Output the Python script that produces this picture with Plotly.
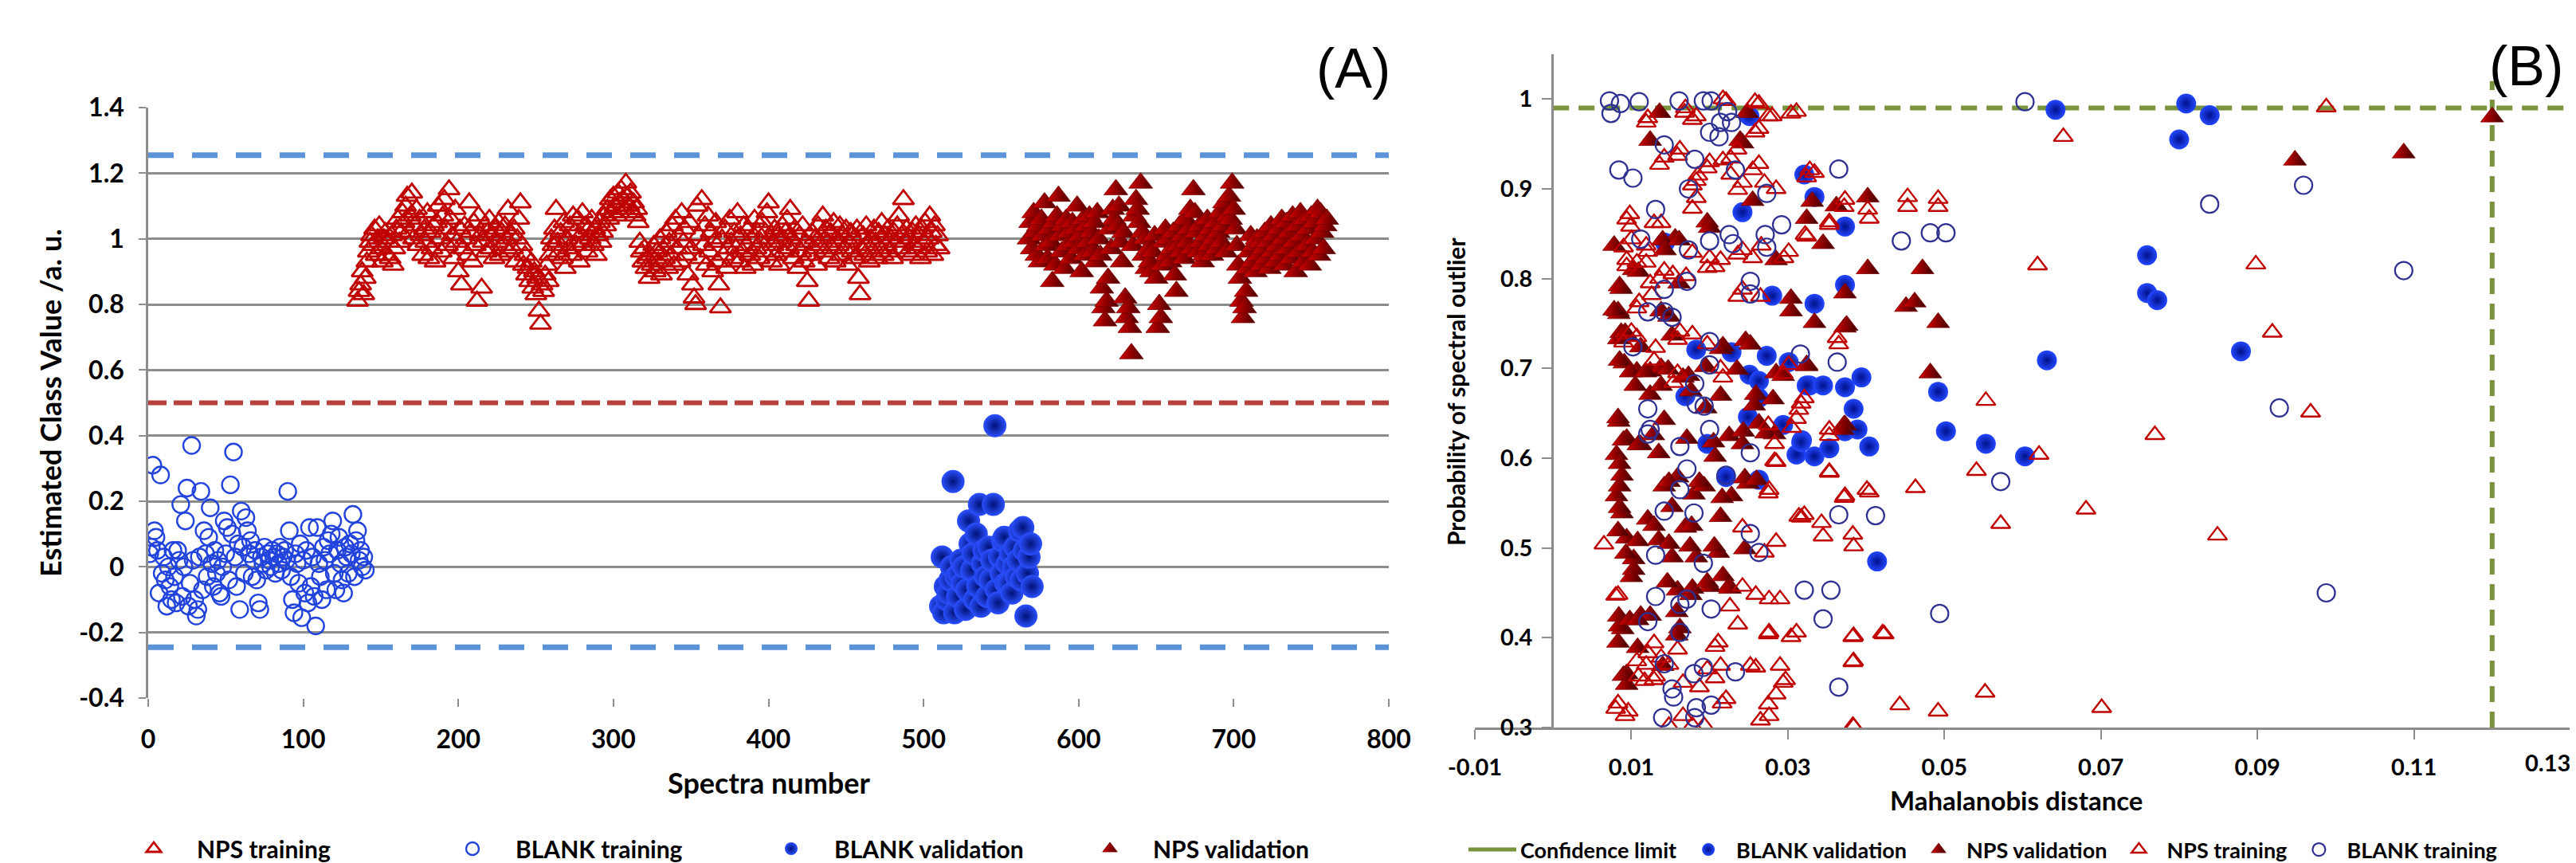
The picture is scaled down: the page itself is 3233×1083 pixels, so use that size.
import plotly.graph_objects as go

# ---------------- Panel (A) data ----------------
a_blank_train_start = 1
a_blank_train_y = [
    0.04, 0.06, 0.31, 0.11, 0.09, 0.05, -0.08, 0.28, -0.02, 0.03,
    -0.04, -0.12, 0.00, -0.06, -0.10, 0.05, -0.03, -0.11, 0.05, 0.02,
    0.19, -0.09, 0.00, 0.14, 0.24, -0.12, -0.05, 0.37, 0.02, -0.10,
    -0.15, -0.13, 0.03, 0.23, -0.07, 0.11, 0.04, -0.03, 0.09, 0.18,
    0.01, -0.06, 0.05, -0.02, 0.02, -0.08, -0.09, 0.00, 0.14, 0.04,
    0.12, -0.04, 0.25, 0.10, 0.35, 0.03, -0.06, 0.07, -0.13, 0.17,
    0.06, -0.02, 0.15, 0.11, 0.04, 0.08, -0.03, 0.02, 0.05, -0.04,
    -0.11, -0.13, 0.03, 0.01, 0.06, -0.01, 0.04, 0.02, 0.00, 0.05,
    0.03, -0.02, 0.04, 0.01, 0.06, -0.01, 0.03, 0.05, 0.02, 0.23,
    0.11, -0.03, -0.10, -0.14, 0.04, 0.01, -0.05, 0.07, -0.155, 0.02,
    -0.08, 0.05, -0.11, 0.12, -0.06, 0.03, -0.09, -0.18, 0.12, 0.01,
    -0.03, -0.10, 0.06, 0.02, -0.07, 0.08, 0.04, 0.10, 0.14, -0.02,
    -0.07, 0.05, 0.09, 0.01, -0.04, -0.08, 0.06, 0.03, -0.02, 0.07,
    0.04, 0.16, -0.03, 0.08, 0.11, 0.02, 0.05, 0.00, 0.03, -0.01,
]

a_nps_train_start = 135
a_nps_train_y = [
    0.81, 0.84, 0.86, 0.90, 0.83, 0.88, 0.93, 0.96, 0.99, 1.01,
    0.98, 1.03, 0.95, 1.00, 1.04, 0.97, 0.93, 1.00, 1.02, 0.95,
    0.99, 0.94, 1.01, 0.92, 0.97, 1.03, 1.06, 0.99, 1.02, 1.08,
    1.05, 1.10, 1.13, 1.02, 1.07, 1.14, 1.00, 1.04, 1.09, 0.98,
    1.06, 1.01, 0.95, 1.03, 0.99, 1.08, 0.94, 1.02, 0.97, 1.04,
    0.93, 1.05, 1.10, 1.00, 0.96, 1.07, 1.12, 1.03, 0.98, 1.15,
    1.06, 1.01, 0.94, 1.09, 0.99, 0.90, 1.03, 0.86, 0.97, 1.04,
    1.00, 0.95, 1.11, 1.02, 0.93, 1.05, 0.98, 0.81, 1.07, 1.01,
    0.85, 0.99, 1.04, 0.96, 1.02, 1.06, 0.97, 1.01, 0.94, 1.03,
    0.99, 1.05, 0.95, 1.02, 0.98, 1.04, 1.00, 1.09, 0.96, 1.01,
    0.97, 1.03, 0.93, 1.00, 1.06, 1.11, 0.98, 0.92, 0.95, 0.89,
    0.91, 0.87, 0.93, 0.85, 0.90, 0.83, 0.88, 0.78, 0.74, 0.86,
    0.84, 0.89, 0.92, 0.87, 0.95, 1.00, 0.98, 1.03, 1.09, 0.99,
    0.96, 1.02, 0.94, 1.05, 0.91, 1.00, 0.97, 1.04, 0.95, 1.07,
    1.02, 0.98, 1.06, 0.93, 1.01, 1.08, 0.99, 1.04, 0.96, 1.03,
    1.00, 1.06, 0.98, 1.03, 0.95, 1.01, 1.05, 0.99, 1.02, 1.07,
    1.04, 1.09, 1.06, 1.12, 1.08, 1.13, 1.10, 1.07, 1.14, 1.11,
    1.15, 1.12, 1.09, 1.17, 1.13, 1.10, 1.14, 1.08, 1.11, 1.07,
    1.09, 1.05, 0.99, 0.96, 0.93, 0.97, 0.91, 0.94, 0.88, 0.95,
    0.92, 0.98, 0.90, 0.96, 0.93, 1.00, 0.89, 0.97, 0.94, 1.02,
    0.91, 0.99, 0.95, 1.04, 0.92, 1.06, 0.97, 1.01, 0.93, 1.08,
    0.99, 1.03, 0.95, 0.89, 1.05, 0.97, 0.86, 0.82, 0.80, 1.10,
    1.01, 0.94, 1.12, 0.98, 1.04, 0.92, 1.07, 0.96, 1.02, 0.90,
    0.99, 1.05, 0.93, 0.86, 0.79, 1.00, 0.95, 1.03, 0.91, 0.97,
    1.06, 0.99, 0.94, 1.02, 0.97, 1.08, 0.93, 1.01, 0.96, 1.04,
    0.91, 0.98, 1.03, 0.95, 1.00, 0.92, 1.06, 0.97, 1.02, 0.94,
    0.99, 1.05, 0.96, 1.02, 1.08, 1.11, 1.00, 0.93, 0.98, 1.03,
    0.95, 1.01, 0.92, 0.99, 1.04, 0.96, 1.02, 1.06, 0.97, 1.09,
    1.00, 0.94, 1.03, 0.98, 0.91, 1.01, 0.96, 1.04, 0.93, 0.99,
    0.87, 0.81, 0.95, 1.02, 0.97, 1.00, 0.92, 1.04, 0.98, 1.01,
    1.07, 0.96, 1.03, 0.99, 0.94, 1.02, 0.97, 1.05, 0.93, 1.00,
    0.98, 1.04, 0.95, 1.01, 0.97, 1.03, 0.92, 0.99, 1.02, 0.96,
    1.00, 0.94, 1.03, 0.88, 0.83, 0.97, 1.01, 0.95, 1.04, 0.98,
    0.93, 1.00, 0.96, 1.03, 0.99, 0.94, 1.02, 0.97, 1.05, 0.95,
    1.01, 0.98, 1.03, 0.96, 1.00, 0.94, 1.02, 0.99, 1.04, 1.07,
    0.97, 1.01, 1.12, 0.99, 1.03, 0.96, 1.00, 0.95, 1.02, 0.98,
    1.04, 0.97, 1.01, 0.94, 1.03, 0.99, 1.05, 0.96, 1.00, 1.07,
    1.02, 0.95, 1.04, 0.98, 1.01, 0.97,
]

a_blank_val_start = 511
a_blank_val_y = [
    -0.12, 0.03, -0.14, -0.06, -0.10, -0.08, -0.04, 0.00, 0.26, -0.14,
    -0.03, -0.09, -0.02, 0.02, -0.05, 0.00, -0.13, -0.07, 0.14, 0.07,
    -0.01, 0.04, -0.10, 0.10, -0.06, 0.19, -0.12, 0.01, 0.05, -0.03,
    -0.09, 0.06, -0.04, 0.02, 0.19, 0.43, -0.07, -0.11, 0.03, -0.02,
    0.08, 0.09, -0.05, 0.01, -0.05, 0.04, -0.08, 0.00, 0.06, -0.03,
    0.02, 0.11, -0.04, 0.12, 0.05, -0.15, -0.02, 0.03, 0.07, -0.06,
]

a_nps_val_start = 568
a_nps_val_y = [
    1.00, 1.05, 0.97, 1.08, 1.02, 0.95, 1.04, 0.93, 1.06, 1.01,
    1.11, 0.98, 0.94, 1.03, 0.99, 0.87, 1.05, 0.92, 1.07, 1.13,
    1.01, 0.96, 1.04, 0.91, 1.06, 0.98, 1.02, 0.94, 1.05, 0.99,
    1.03, 1.10, 0.97, 1.01, 0.90, 1.06, 0.95, 1.04, 0.99, 1.07,
    1.02, 0.96, 1.05, 0.93, 1.08, 1.00, 0.95, 0.85, 0.79, 0.75,
    0.81, 0.88, 1.03, 0.97, 1.09, 1.06, 1.15, 1.04, 1.10, 0.99,
    0.93, 1.02, 0.82, 0.76, 0.79, 0.73, 0.65, 0.98, 1.07, 1.12,
    1.09, 1.05, 1.17, 1.02, 0.95, 1.00, 0.91, 0.97, 0.93, 0.90,
    0.96, 1.01, 0.88, 0.73, 0.80, 0.76, 0.92, 0.99, 1.03, 0.95,
    1.00, 0.93, 0.97, 1.02, 0.89, 0.84, 0.98, 1.04, 0.96, 1.01,
    0.94, 1.06, 0.99, 1.03, 1.09, 0.97, 1.15, 1.08, 1.02, 0.96,
    1.04, 0.99, 0.93, 0.95, 1.01, 1.06, 0.98, 1.03, 0.95, 1.00,
    1.05, 0.97, 1.02, 1.08, 0.99, 1.04, 1.11, 0.96, 1.07, 1.13,
    1.06, 1.17, 1.09, 1.03, 0.98, 0.92, 0.88, 0.81, 0.76, 0.79,
    0.84, 0.91, 0.96, 1.01, 0.93, 0.98, 0.90, 1.00, 0.95, 0.99,
    0.92, 0.97, 1.02, 0.94, 0.99, 0.91, 1.04, 0.96, 1.01, 0.93,
    0.98, 1.03, 0.95, 1.06, 1.00, 0.92, 1.05, 0.97, 1.02, 0.94,
    1.07, 0.99, 0.90, 1.04, 0.96, 1.08, 1.01, 0.93, 1.06, 0.98,
    1.03, 0.92, 1.07, 0.96, 1.05, 1.00, 1.09, 0.95, 1.08, 1.02,
    0.97, 1.04, 1.06,
]

a_blank_upper_limit = 1.255
a_blank_lower_limit = -0.245
a_class_threshold = 0.5
a_x_range = [0, 800]
a_x_ticks = [0, 100, 200, 300, 400, 500, 600, 700, 800]
a_y_ticks = [-0.4, -0.2, 0, 0.2, 0.4, 0.6, 0.8, 1.0, 1.2, 1.4]
a_y_ticktext = ["-0.4", "-0.2", "0", "0.2", "0.4", "0.6", "0.8", "1", "1.2", "1.4"]

# ---------------- Panel (B) data (Mahalanobis distance, probability) ----------------
b_blank_train_pts = [
    (0.0072, 0.998), (0.0086, 0.995), (0.0110, 0.997), (0.0074, 0.984), (0.0161, 0.998),
    (0.0192, 0.998), (0.0202, 0.998), (0.0223, 0.986), (0.0214, 0.974), (0.0200, 0.963),
    (0.0212, 0.958), (0.0228, 0.974), (0.0142, 0.949), (0.0181, 0.933), (0.0084, 0.921),
    (0.0102, 0.912), (0.0173, 0.900), (0.0233, 0.921), (0.0273, 0.895), (0.0131, 0.877),
    (0.0112, 0.844), (0.0173, 0.832), (0.0200, 0.842), (0.0225, 0.849), (0.0230, 0.839),
    (0.0271, 0.849), (0.0292, 0.860), (0.0273, 0.835), (0.0171, 0.797), (0.0142, 0.788),
    (0.0252, 0.797), (0.0252, 0.783), (0.0121, 0.763), (0.0142, 0.763), (0.0152, 0.757),
    (0.0102, 0.724), (0.0200, 0.730), (0.0200, 0.704), (0.0181, 0.683), (0.0183, 0.660),
    (0.0193, 0.658), (0.0121, 0.655), (0.0200, 0.632), (0.0124, 0.632), (0.0121, 0.627),
    (0.0162, 0.613), (0.0252, 0.606), (0.0171, 0.588), (0.0221, 0.581), (0.0162, 0.565),
    (0.0142, 0.541), (0.0180, 0.539), (0.0252, 0.516), (0.0263, 0.495), (0.0131, 0.492),
    (0.0192, 0.483), (0.0321, 0.453), (0.0131, 0.446), (0.0162, 0.437), (0.0171, 0.443),
    (0.0202, 0.432), (0.0121, 0.418), (0.0162, 0.406), (0.0142, 0.371), (0.0192, 0.367),
    (0.0180, 0.360), (0.0233, 0.362), (0.0152, 0.343), (0.0154, 0.334), (0.0183, 0.322),
    (0.0202, 0.325), (0.0140, 0.311), (0.0181, 0.311),
    (0.0603, 0.997), (0.0365, 0.922), (0.0445, 0.842), (0.0482, 0.851), (0.0502, 0.851),
    (0.0363, 0.707), (0.0316, 0.716), (0.0572, 0.574), (0.0365, 0.537), (0.0412, 0.536),
    (0.0355, 0.453), (0.0345, 0.421), (0.0494, 0.427), (0.0365, 0.345), (0.0959, 0.904),
    (0.0839, 0.883), (0.1087, 0.809), (0.0928, 0.656), (0.0988, 0.450),
]

b_blank_val_pts = [
    (0.0251, 0.981), (0.0242, 0.874), (0.0321, 0.916), (0.0143, 0.840), (0.0280, 0.781),
    (0.0183, 0.721), (0.0228, 0.718), (0.0273, 0.714), (0.0301, 0.707), (0.0251, 0.693),
    (0.0263, 0.686), (0.0263, 0.667), (0.0169, 0.669), (0.0249, 0.646), (0.0294, 0.637),
    (0.0318, 0.620), (0.0311, 0.604), (0.0197, 0.616), (0.0221, 0.579), (0.0263, 0.576),
    (0.0328, 0.681), (0.0642, 0.988), (0.0334, 0.891), (0.0373, 0.858), (0.0373, 0.793),
    (0.0334, 0.772), (0.0631, 0.709), (0.0324, 0.681), (0.0345, 0.681), (0.0373, 0.679),
    (0.0394, 0.690), (0.0492, 0.674), (0.0384, 0.655), (0.0502, 0.630), (0.0373, 0.630),
    (0.0389, 0.632), (0.0317, 0.618), (0.0404, 0.613), (0.0334, 0.602), (0.0353, 0.611),
    (0.0553, 0.616), (0.0603, 0.602), (0.0414, 0.485), (0.0809, 0.995), (0.0839, 0.982),
    (0.0800, 0.955), (0.0759, 0.826), (0.0759, 0.784), (0.0772, 0.776), (0.0879, 0.719),
]

b_nps_val_pts = [
    (0.0948, 0.932), (0.1087, 0.940), (0.1200, 0.980), (0.0402, 0.891), (0.0472, 0.811),
    (0.0451, 0.769), (0.0462, 0.774), (0.0492, 0.751), (0.0482, 0.695), (0.0373, 0.784),
    (0.0334, 0.751), (0.0373, 0.746), (0.0324, 0.704), (0.0373, 0.637), (0.0362, 0.881),
    (0.0345, 0.839), (0.0324, 0.867), (0.0331, 0.886), (0.0402, 0.811),
    (0.0248, 0.985), (0.0136, 0.985), (0.0124, 0.954), (0.0239, 0.954), (0.0255, 0.887),
    (0.0078, 0.837), (0.0156, 0.845), (0.0197, 0.863), (0.0285, 0.821), (0.0103, 0.810),
    (0.0085, 0.792), (0.0304, 0.778), (0.0304, 0.764), (0.0083, 0.764), (0.0375, 0.748),
    (0.0148, 0.758), (0.0138, 0.764), (0.0246, 0.731), (0.0217, 0.725), (0.0324, 0.703),
    (0.0087, 0.740), (0.0242, 0.951), (0.0200, 0.857), (0.0140, 0.843), (0.0161, 0.843),
    (0.0109, 0.808), (0.0087, 0.789), (0.0084, 0.761), (0.0161, 0.795), (0.0084, 0.733),
    (0.0094, 0.737), (0.0112, 0.724), (0.0091, 0.706), (0.0107, 0.697), (0.0124, 0.697),
    (0.0138, 0.701), (0.0084, 0.641), (0.0094, 0.622), (0.0081, 0.604), (0.0088, 0.581),
    (0.0081, 0.558), (0.0088, 0.539), (0.0094, 0.511), (0.0103, 0.488), (0.0084, 0.424),
    (0.0089, 0.410), (0.0094, 0.360), (0.0152, 0.737), (0.0166, 0.690), (0.0214, 0.722),
    (0.0252, 0.727), (0.0235, 0.699), (0.0259, 0.671), (0.0124, 0.671), (0.0142, 0.643),
    (0.0112, 0.615), (0.0135, 0.606), (0.0159, 0.579), (0.0142, 0.569), (0.0180, 0.560),
    (0.0193, 0.569), (0.0152, 0.546), (0.0121, 0.532), (0.0169, 0.523), (0.0135, 0.509),
    (0.0152, 0.490), (0.0183, 0.490), (0.0211, 0.495), (0.0159, 0.453), (0.0176, 0.448),
    (0.0200, 0.457), (0.0112, 0.425), (0.0162, 0.411), (0.0225, 0.457), (0.0214, 0.535),
    (0.0228, 0.558), (0.0249, 0.572), (0.0225, 0.625), (0.0207, 0.602), (0.0263, 0.639),
    (0.0283, 0.627), (0.0242, 0.616), (0.0103, 0.476), (0.0124, 0.425), (0.0140, 0.369),
    (0.0094, 0.348), (0.0083, 0.645), (0.0090, 0.620), (0.0085, 0.594), (0.0085, 0.569),
    (0.0085, 0.545), (0.0083, 0.519), (0.0093, 0.494), (0.0100, 0.468), (0.0085, 0.413),
    (0.0098, 0.420), (0.0083, 0.395), (0.0090, 0.358), (0.0108, 0.389), (0.0108, 0.420),
    (0.0146, 0.462), (0.0178, 0.455), (0.0197, 0.462), (0.0217, 0.469), (0.0226, 0.455),
    (0.0158, 0.429), (0.0158, 0.403), (0.0175, 0.502), (0.0206, 0.502), (0.0148, 0.505),
    (0.0129, 0.525), (0.0108, 0.508), (0.0177, 0.525), (0.0148, 0.574), (0.0187, 0.574),
    (0.0216, 0.556), (0.0245, 0.578), (0.0260, 0.576), (0.0245, 0.499), (0.0372, 0.637),
    (0.0078, 0.765), (0.0092, 0.740), (0.0085, 0.709), (0.0099, 0.696), (0.0118, 0.696),
    (0.0147, 0.699), (0.0173, 0.692), (0.0195, 0.702), (0.0285, 0.695), (0.0294, 0.692),
    (0.0109, 0.615), (0.0128, 0.626), (0.0171, 0.622), (0.0205, 0.618), (0.0243, 0.630),
    (0.0272, 0.628), (0.0370, 0.632), (0.0257, 0.659), (0.0281, 0.666), (0.0195, 0.656),
    (0.0214, 0.670), (0.0176, 0.675), (0.0138, 0.681), (0.0105, 0.681), (0.0143, 0.832),
]

b_nps_train_pts = [
    (0.0217, 1.000), (0.0258, 0.997), (0.0119, 0.974), (0.0168, 0.985), (0.0178, 0.977),
    (0.0275, 0.981), (0.0304, 0.984), (0.0258, 0.963), (0.0159, 0.937), (0.0136, 0.927),
    (0.0197, 0.923), (0.0217, 0.932), (0.0227, 0.934), (0.0185, 0.915), (0.0255, 0.921),
    (0.0227, 0.916), (0.0178, 0.904), (0.0285, 0.900), (0.0236, 0.899), (0.0178, 0.878),
    (0.0324, 0.913), (0.0334, 0.918), (0.0372, 0.880), (0.0404, 0.867), (0.0453, 0.880),
    (0.0492, 0.880), (0.0094, 0.866), (0.0099, 0.858), (0.0129, 0.862), (0.0138, 0.862),
    (0.0090, 0.835), (0.0119, 0.837), (0.0107, 0.818), (0.0094, 0.814), (0.0119, 0.818),
    (0.0136, 0.800), (0.0153, 0.805), (0.0170, 0.803), (0.0178, 0.829), (0.0197, 0.812),
    (0.0207, 0.813), (0.0236, 0.827), (0.0255, 0.823), (0.0295, 0.823), (0.0324, 0.847),
    (0.0353, 0.860), (0.0236, 0.780), (0.0265, 0.780), (0.0107, 0.767), (0.0126, 0.782),
    (0.0178, 0.738), (0.0159, 0.732), (0.0197, 0.727), (0.0107, 0.735), (0.0090, 0.729),
    (0.0365, 0.727), (0.0129, 0.709), (0.0217, 0.690), (0.0294, 0.694), (0.0154, 0.684),
    (0.0314, 0.654), (0.0553, 0.664), (0.0305, 0.634), (0.0353, 0.625), (0.0275, 0.637),
    (0.0619, 0.815), (0.0328, 0.921), (0.0373, 0.888), (0.0402, 0.877), (0.0453, 0.891),
    (0.0492, 0.889), (0.0353, 0.863), (0.0322, 0.849), (0.0652, 0.958), (0.0363, 0.734),
    (0.0317, 0.661), (0.0353, 0.632), (0.0541, 0.586), (0.0621, 0.604), (0.0353, 0.584),
    (0.0373, 0.558), (0.0404, 0.562), (0.0463, 0.567), (0.0572, 0.527), (0.0681, 0.543),
    (0.0317, 0.534), (0.0345, 0.513), (0.0384, 0.502), (0.0384, 0.402), (0.0423, 0.404),
    (0.0384, 0.374), (0.0443, 0.325), (0.0492, 0.318), (0.0552, 0.339), (0.0701, 0.322),
    (0.0384, 0.301), (0.0988, 0.991), (0.0898, 0.816), (0.0919, 0.740), (0.0968, 0.651),
    (0.0769, 0.626), (0.0849, 0.514), (0.0221, 0.998), (0.0263, 0.995), (0.0121, 0.979),
    (0.0169, 0.990), (0.0183, 0.981), (0.0280, 0.981), (0.0311, 0.986), (0.0263, 0.967),
    (0.0235, 0.944), (0.0162, 0.944), (0.0142, 0.935), (0.0200, 0.930), (0.0183, 0.909),
    (0.0263, 0.928), (0.0242, 0.907), (0.0270, 0.907), (0.0183, 0.890), (0.0098, 0.872),
    (0.0100, 0.844), (0.0121, 0.830), (0.0094, 0.821), (0.0142, 0.809), (0.0200, 0.823),
    (0.0214, 0.821), (0.0242, 0.832), (0.0266, 0.837), (0.0301, 0.830), (0.0110, 0.774),
    (0.0124, 0.795), (0.0242, 0.788), (0.0100, 0.741), (0.0131, 0.723), (0.0162, 0.741),
    (0.0159, 0.695), (0.0214, 0.700), (0.0301, 0.704), (0.0321, 0.667), (0.0311, 0.644),
    (0.0283, 0.597), (0.0283, 0.616), (0.0276, 0.565), (0.0321, 0.537), (0.0065, 0.504),
    (0.0270, 0.495), (0.0242, 0.523), (0.0083, 0.448), (0.0242, 0.457), (0.0259, 0.448),
    (0.0276, 0.443), (0.0290, 0.443), (0.0276, 0.406), (0.0311, 0.406), (0.0211, 0.395),
    (0.0121, 0.383), (0.0138, 0.378), (0.0107, 0.374), (0.0214, 0.369), (0.0252, 0.369),
    (0.0259, 0.367), (0.0290, 0.369), (0.0297, 0.353), (0.0221, 0.332), (0.0083, 0.327),
    (0.0096, 0.318), (0.0166, 0.313), (0.0276, 0.313), (0.0193, 0.302), (0.0166, 0.350),
    (0.0117, 0.352), (0.0131, 0.357), (0.0080, 0.447), (0.0080, 0.321), (0.0092, 0.313),
    (0.0148, 0.302), (0.0178, 0.302), (0.0275, 0.561), (0.0285, 0.596), (0.0314, 0.535),
    (0.0285, 0.507), (0.0343, 0.528), (0.0383, 0.515), (0.0372, 0.556), (0.0401, 0.565),
    (0.0353, 0.585), (0.0275, 0.404), (0.0304, 0.401), (0.0383, 0.401), (0.0421, 0.405),
    (0.0383, 0.373), (0.0294, 0.350), (0.0285, 0.337), (0.0275, 0.326), (0.0265, 0.308),
    (0.0383, 0.302), (0.0226, 0.435), (0.0236, 0.415), (0.0207, 0.390), (0.0197, 0.365),
    (0.0207, 0.355), (0.0187, 0.345), (0.0216, 0.327), (0.0159, 0.387), (0.0129, 0.394),
    (0.0119, 0.370), (0.0109, 0.357), (0.0129, 0.353), (0.0148, 0.370),
]

b_conf_limit_prob = 0.99
b_conf_limit_dist = 0.12
b_x_ticks = [-0.01, 0.01, 0.03, 0.05, 0.07, 0.09, 0.11, 0.13]
b_x_ticktext = ["-0.01", "0.01", "0.03", "0.05", "0.07", "0.09", "0.11", ""]
b_x_last_label = "0.13"
b_y_ticks = [0.3, 0.4, 0.5, 0.6, 0.7, 0.8, 0.9, 1.0]
b_y_ticktext = ["0.3", "0.4", "0.5", "0.6", "0.7", "0.8", "0.9", "1"]


def xs_from(start, ys):
    return list(range(start, start + len(ys)))


def unzip(pts):
    return [p[0] for p in pts], [p[1] for p in pts]


# ---------------- styles ----------------
W, H = 3233, 1083
FONT = "Lato"
RED = "#C00000"
BLUE_A = "#2244DD"
NAVY = "#2E3192"
GRID = "#8C8C8C"
GREEN = "#77933C"

fig = go.Figure()

# Panel A reference lines
for yv, col, dash, w in [
    (a_blank_upper_limit, "#5B93D8", "32px,23px", 7),
    (a_class_threshold, "#B5413D", "23px,9px", 6),
    (a_blank_lower_limit, "#5B93D8", "32px,23px", 7),
]:
    fig.add_trace(go.Scatter(x=a_x_range, y=[yv, yv], mode="lines",
                             line=dict(color=col, width=w, dash=dash),
                             showlegend=False, hoverinfo="skip",
                             xaxis="x", yaxis="y"))

open_tri_a = dict(symbol="triangle-up-open", size=23, color=RED, line=dict(width=2.8, color=RED))
open_circ_a = dict(symbol="circle-open", size=21, color=BLUE_A, line=dict(width=2.4, color=BLUE_A))
ball_a = dict(symbol="circle", size=29, color="#2B50FF",
              gradient=dict(type="radial", color="#001277"), line=dict(width=0))
ftri_a = dict(symbol="triangle-up", size=26, color="#D40000",
              gradient=dict(type="horizontal", color="#4A0000"), line=dict(width=0.8, color="#7A0000"))

fig.add_trace(go.Scatter(x=xs_from(a_nps_train_start, a_nps_train_y), y=a_nps_train_y,
                         mode="markers", name="NPS training", marker=open_tri_a,
                         xaxis="x", yaxis="y", legend="legend"))
fig.add_trace(go.Scatter(x=xs_from(a_blank_train_start, a_blank_train_y), y=a_blank_train_y,
                         mode="markers", name="BLANK training", marker=open_circ_a,
                         xaxis="x", yaxis="y", legend="legend"))
fig.add_trace(go.Scatter(x=xs_from(a_blank_val_start, a_blank_val_y), y=a_blank_val_y,
                         mode="markers", name="BLANK validation", marker=ball_a,
                         xaxis="x", yaxis="y", legend="legend"))
fig.add_trace(go.Scatter(x=xs_from(a_nps_val_start, a_nps_val_y), y=a_nps_val_y,
                         mode="markers", name="NPS validation", marker=ftri_a,
                         xaxis="x", yaxis="y", legend="legend"))

# Panel B
fig.add_trace(go.Scatter(x=[0, 0.13, None, b_conf_limit_dist, b_conf_limit_dist],
                         y=[b_conf_limit_prob, b_conf_limit_prob, None, 0.3, 1.02],
                         mode="lines", line=dict(color=GREEN, width=6, dash="20px,12px"),
                         showlegend=False, hoverinfo="skip", xaxis="x2", yaxis="y2"))
fig.add_trace(go.Scatter(x=[None], y=[None], mode="lines", name="Confidence limit",
                         line=dict(color=GREEN, width=5), xaxis="x2", yaxis="y2",
                         legend="legend2"))

bx, by = unzip(b_blank_val_pts)
fig.add_trace(go.Scatter(x=bx, y=by, mode="markers", name="BLANK validation",
                         marker=dict(symbol="circle", size=25, color="#2347FF",
                                     gradient=dict(type="radial", color="#00118A"), line=dict(width=0)),
                         xaxis="x2", yaxis="y2", legend="legend2"))
bx, by = unzip(b_nps_val_pts)
fig.add_trace(go.Scatter(x=bx, y=by, mode="markers", name="NPS validation",
                         marker=dict(symbol="triangle-up", size=25, color="#D40000",
                                     gradient=dict(type="horizontal", color="#3A0000"),
                                     line=dict(width=0.8, color="#7A0000")),
                         xaxis="x2", yaxis="y2", legend="legend2"))
bx, by = unzip(b_nps_train_pts)
fig.add_trace(go.Scatter(x=bx, y=by, mode="markers", name="NPS training",
                         marker=dict(symbol="triangle-up-open", size=21, color=RED,
                                     line=dict(width=2.4, color=RED)),
                         xaxis="x2", yaxis="y2", legend="legend2"))
bx, by = unzip(b_blank_train_pts)
fig.add_trace(go.Scatter(x=bx, y=by, mode="markers", name="BLANK training",
                         marker=dict(symbol="circle-open", size=22, color=NAVY,
                                     line=dict(width=2.2, color=NAVY)),
                         xaxis="x2", yaxis="y2", legend="legend2"))

tickfont_a = dict(family=FONT, size=32, color="#000", weight="bold")
tickfont_b = dict(family=FONT, size=29, color="#000", weight="bold")

fig.update_layout(
    width=W, height=H, margin=dict(l=0, r=0, t=0, b=0, autoexpand=False),
    paper_bgcolor="white", plot_bgcolor="white",
    font=dict(family=FONT, size=30, color="#000"),
    xaxis=dict(domain=[178 / W, 1735 / W], range=a_x_range, anchor="y",
               tickvals=a_x_ticks, ticktext=[str(v) for v in a_x_ticks],
               showgrid=False, zeroline=False, showline=False,
               ticks="outside", ticklen=10, tickwidth=2, tickcolor=GRID,
               tickfont=tickfont_a, ticklabelstandoff=14),
    yaxis=dict(domain=[1 - 868 / H, 1 - 127 / H], range=[-0.4, 1.4], anchor="x",
               tickvals=a_y_ticks, ticktext=a_y_ticktext,
               showgrid=True, gridcolor=GRID, gridwidth=2.5, zeroline=False,
               showline=True, linecolor=GRID, linewidth=2.5,
               ticks="outside", ticklen=9, tickwidth=2, tickcolor=GRID,
               tickfont=tickfont_a, ticklabelstandoff=12),
    xaxis2=dict(domain=[1843 / W, 3218 / W], range=[-0.01, 0.13], anchor="y2",
                tickvals=b_x_ticks, ticktext=b_x_ticktext,
                showgrid=False, zeroline=False, showline=True, linecolor=GRID, linewidth=2.5,
                ticks="outside", ticklen=12, tickwidth=2, tickcolor=GRID,
                tickfont=tickfont_b, ticklabelstandoff=10),
    yaxis2=dict(domain=[1 - 905 / H, 1 - 60 / H], range=[0.3, 1.05], anchor="free",
                position=1940 / W,
                tickvals=b_y_ticks, ticktext=b_y_ticktext,
                showgrid=False, zeroline=False, showline=True, linecolor=GRID, linewidth=2.5,
                ticks="outside", ticklen=12, tickwidth=2, tickcolor=GRID,
                tickfont=tickfont_b, ticklabelstandoff=6),
    legend=dict(orientation="h", x=131 / W, y=0, xanchor="left", yanchor="bottom",
                font=dict(family=FONT, size=30, color="#000", weight="bold"),
                itemwidth=98, entrywidth=287, entrywidthmode="pixels", bgcolor="rgba(0,0,0,0)",
                traceorder="normal"),
    legend2=dict(orientation="h", x=1830 / W, y=0, xanchor="left", yanchor="bottom",
                 font=dict(family=FONT, size=27, color="#000", weight="bold"),
                 itemwidth=60, bgcolor="rgba(0,0,0,0)", traceorder="normal"),
    annotations=[
        dict(text="Spectra number", x=(178 + 1735) / 2 / W, y=1 - 974 / H, xref="paper", yref="paper",
             showarrow=False, font=dict(family=FONT, size=36, weight="bold"), xanchor="center", yanchor="middle"),
        dict(text="Estimated Class Value /a. u.", x=55 / W, y=1 - 498 / H, xref="paper", yref="paper",
             showarrow=False, textangle=-90, font=dict(family=FONT, size=36, weight="bold"),
             xanchor="center", yanchor="middle"),
        dict(text="Mahalanobis distance", x=2523 / W, y=1 - 996 / H, xref="paper", yref="paper",
             showarrow=False, font=dict(family=FONT, size=33, weight="bold"), xanchor="center", yanchor="middle"),
        dict(text="Probability of spectral outlier", x=1819 / W, y=1 - 483 / H, xref="paper", yref="paper",
             showarrow=False, textangle=-90, font=dict(family=FONT, size=30, weight="bold"),
             xanchor="center", yanchor="middle"),
        dict(text=b_x_last_label, x=3220 / W, y=1 - 948 / H, xref="paper", yref="paper", showarrow=False,
             font=tickfont_b, xanchor="right", yanchor="middle"),
        dict(text="(A)", x=1690 / W, y=1 - 78 / H, xref="paper", yref="paper", showarrow=False,
             font=dict(family="Liberation Sans", size=70, color="#000"), xanchor="center", yanchor="middle"),
        dict(text="(B)", x=3162 / W, y=1 - 75 / H, xref="paper", yref="paper", showarrow=False,
             font=dict(family="Liberation Sans", size=70, color="#000"), xanchor="center", yanchor="middle"),
    ],
)

fig.write_html("out.html")
